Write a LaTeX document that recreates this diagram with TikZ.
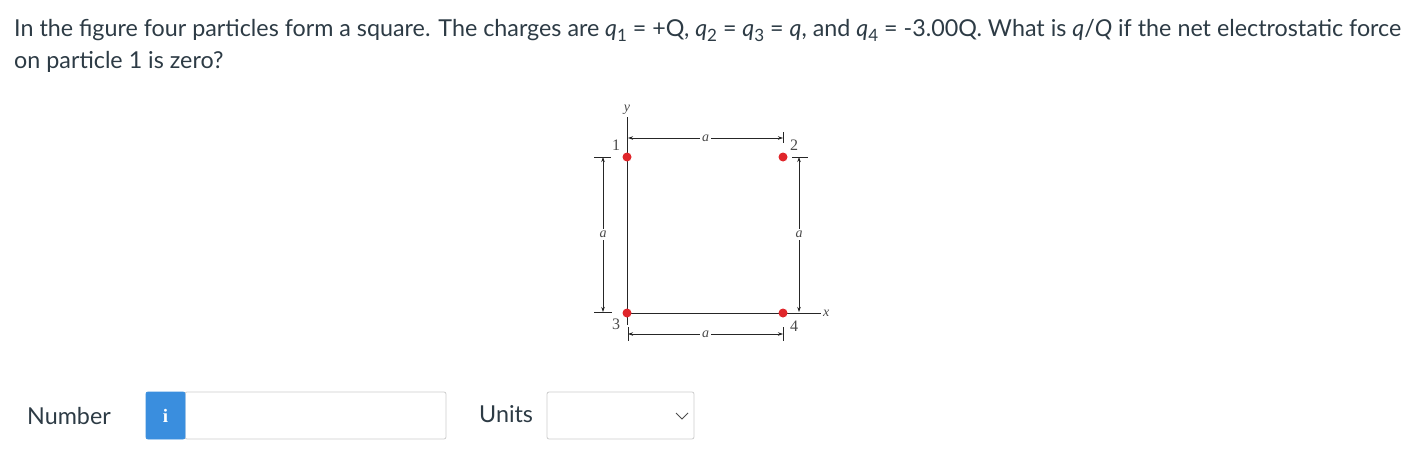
\documentclass[tikz,border=0pt]{standalone}
\usepackage{fontspec}
\setmainfont{Lato}
\newfontfamily\figfont{Liberation Serif}
\usetikzlibrary{arrows.meta}
\definecolor{dotred}{HTML}{E0262B}
\definecolor{infoblue}{HTML}{3A8EDE}
\definecolor{boxgray}{HTML}{CCCCCC}
\definecolor{labgray}{HTML}{4A4A4A}
\definecolor{txtgray}{HTML}{2D3B45}
\newcommand{\qs}[1]{\textit{q}\raisebox{-0.22em}{\fontsize{17}{17}\selectfont #1}}

\begin{document}
\begin{tikzpicture}[x=1pt,y=-1pt,
	dot/.style={circle,fill=dotred,inner sep=0pt,minimum size=9pt},
	numlab/.style={text=labgray,font=\figfont\fontsize{16}{16}\selectfont,inner sep=1pt},
	dimlab/.style={fill=white,text=labgray,font=\figfont\itshape\fontsize{14}{14}\selectfont,inner sep=2pt},
	axis/.style={draw=black!85,line width=0.9pt},
	dim/.style={draw=black!85,line width=0.7pt,{Stealth[length=5pt,width=3.5pt]}-{Stealth[length=5pt,width=3.5pt]}},
	tick/.style={draw=black!85,line width=0.7pt},
	qtext/.style={anchor=base west,text=txtgray,font=\fontsize{23.3}{28}\selectfont,inner sep=0pt},
	formbox/.style={draw=boxgray,line width=0.8pt,rounded corners=2pt,minimum height=47pt}]
	\useasboundingbox (0,0) rectangle (1414,474);
	\node[qtext] (line1) at (14,36) {In the figure four particles form a square. The charges are \qs{1} = +Q, \qs{2} = \qs{3} = \textit{q}, and \qs{4} = -3.00Q. What is \textit{q}/\textit{Q} if the net electrostatic force};
	\node[qtext] (line2) at (14,68) {on particle 1 is zero?};
	\coordinate (ytop) at (627,117);
	\coordinate (ybot) at (627,325);
	\coordinate (xbeg) at (627,313);
	\coordinate (xend) at (821,313);
	\draw[axis] (ytop) -- (ybot);
	\draw[axis] (xbeg) -- (xend);
	\node[dimlab,fill=none] (ylab) [above] at (ytop) {y};
	\node[dimlab,fill=none] (xlab) [right] at (xend) {x};
	\node[dot] (p1) at (627,157) {};
	\node[dot] (p2) at (783,157) {};
	\node[dot] (p3) at (627,313) {};
	\node[dot] (p4) at (783,313) {};
	\node[numlab] (n1) at (616,145) {1};
	\node[numlab] (n2) at (794,145) {2};
	\node[numlab] (n3) at (616,324) {3};
	\node[numlab] (n4) at (794,326) {4};
	\coordinate (t1) at (628,138);
	\coordinate (t2) at (783,138);
	\coordinate (l1) at (603,157);
	\coordinate (l2) at (603,312);
	\coordinate (r1) at (799,157);
	\coordinate (r2) at (799,312);
	\coordinate (b1) at (628,334);
	\coordinate (b2) at (783,334);
	\draw[dim] (t1) -- node[dimlab] (ta) {a} (t2);
	\draw[dim] (l1) -- node[dimlab] (la) {a} (l2);
	\draw[dim] (r1) -- node[dimlab] (ra) {a} (r2);
	\draw[dim] (b1) -- node[dimlab] (ba) {a} (b2);
	\draw[tick] ([yshift=6pt]t2) -- ([yshift=-5pt]t2);
	\draw[tick] ([xshift=-9pt]l1) -- ([xshift=8pt]l1);
	\draw[tick] ([xshift=-9pt]l2) -- ([xshift=9pt]l2);
	\draw[tick] ([xshift=-7pt]r1) -- ([xshift=9pt]r1);
	\draw[tick] ([yshift=7pt]b1) -- ([yshift=-7pt]b1);
	\draw[tick] ([yshift=7pt]b2) -- ([yshift=-7pt]b2);
	\node[qtext] (numlab) at (27,424) {Number};
	\node[qtext] (unitlab) at (479,422) {Units};
	\node[formbox,minimum width=261pt] (numbox) at (315.5,415.5) {};
	\node[formbox,fill=infoblue,draw=infoblue,minimum width=39pt,text=white,font=\figfont\bfseries\fontsize{19}{19}\selectfont] (info) at (165.5,415.5) {i};
	\node[formbox,minimum width=147pt] (unitbox) at (620.5,415.5) {};
	\coordinate (chev) at (682,419);
	\draw[line width=1pt,draw=black!70] ([shift={(-6pt,6pt)}]chev) -- (chev) -- ([shift={(6pt,6pt)}]chev);
\end{tikzpicture}
\end{document}
